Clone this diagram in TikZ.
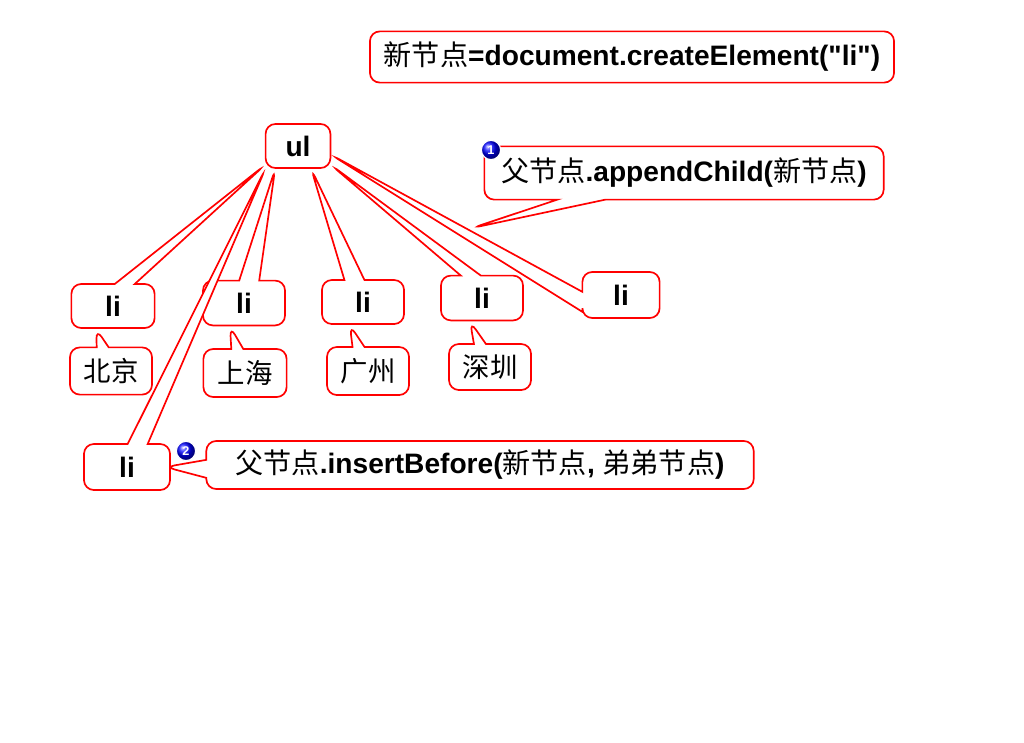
\documentclass[tikz,border=0pt]{standalone}
\usepackage{fontspec}
\setmainfont{Liberation Sans}
\newfontfamily\cjk{Noto Sans CJK SC}
\usetikzlibrary{shapes.callouts}
\newcommand{\zh}[1]{{\cjk\mdseries #1}}

\begin{document}
\begin{tikzpicture}[x=0.025cm, y=-0.025cm,
  box/.style={draw=red, line width=1.2pt, fill=white, rounded corners=7pt,
    font=\fontsize{20}{24}\selectfont\bfseries, inner sep=2pt},
  tag/.style={box, rectangle callout, callout pointer width=0.5cm},
  leaf/.style={tag, font=\fontsize{19.5}{22}\selectfont\cjk, callout pointer width=0.3cm},
  badge/.style={circle, draw=white, thick, ball color=blue, text=white,
    font=\fontsize{9}{9}\selectfont\bfseries, inner sep=0pt, minimum size=0.48cm}]
  \useasboundingbox (0,0) rectangle (1024,742);
  % createElement
  \node[box, minimum width=13.1cm, minimum height=1.28cm] (title) at (632,57)
    {\zh{新节点}=document.createElement(\textquotedbl li\textquotedbl)};
  % parent ul
  \node[box, minimum width=1.62cm, minimum height=1.1cm] (ul) at (298,146) {ul};
  % li children
  \node[tag, callout absolute pointer={(ul.210)}, minimum width=2.08cm, minimum height=1.1cm] (li1) at (113,306) {li};
  \node[tag, callout absolute pointer={(ul.225)}, minimum width=2.05cm, minimum height=1.12cm] (li2) at (244,303) {li};
  \node[tag, callout absolute pointer={(ul.300)}, minimum width=2.05cm, minimum height=1.1cm] (li3) at (363,302) {li};
  \node[tag, callout absolute pointer={(ul.330)}, minimum width=2.05cm, minimum height=1.12cm] (li4) at (482,298) {li};
  \node[tag, callout absolute pointer={(ul.345)}, minimum width=1.93cm, minimum height=1.15cm] (li5) at (621,295) {li};
  % inserted li
  \node[tag, callout absolute pointer={(ul.215)}, minimum width=2.15cm, minimum height=1.15cm] (liNew) at (127,467) {li};
  % text children
  \node[leaf, callout absolute pointer={([xshift=-0.42cm]li1.south)}, minimum width=2.05cm, minimum height=1.18cm] (bj) at (111,371) {北京};
  \node[leaf, callout absolute pointer={([xshift=-0.35cm]li2.south)}, minimum width=2.08cm, minimum height=1.2cm] (sh) at (245,373) {上海};
  \node[leaf, callout absolute pointer={([xshift=-0.33cm]li3.south)}, minimum width=2.05cm, minimum height=1.2cm] (gz) at (368,371) {广州};
  \node[leaf, callout absolute pointer={([xshift=-0.3cm]li4.south)}, minimum width=2.05cm, minimum height=1.15cm] (sz) at (490,367) {深圳};
  % appendChild
  \coordinate (hook) at (472,228);
  \node[tag, callout pointer width=1.2cm, callout absolute pointer={(hook)}, minimum width=9.98cm, minimum height=1.33cm] (append) at (684,173) {\zh{父节点}.appendChild(\zh{新节点})};
  % insertBefore
  \node[tag, callout pointer width=0.45cm, callout absolute pointer={([xshift=-4pt]liNew.east)}, minimum width=13.68cm, minimum height=1.2cm] (insert) at (480,465) {\zh{父节点}.insertBefore(\zh{新节点}, \zh{弟弟节点})};
  % step numbers
  \node[badge] (n1) at (491,150) {1};
  \node[badge] (n2) at (186,451) {2};
\end{tikzpicture}
\end{document}
